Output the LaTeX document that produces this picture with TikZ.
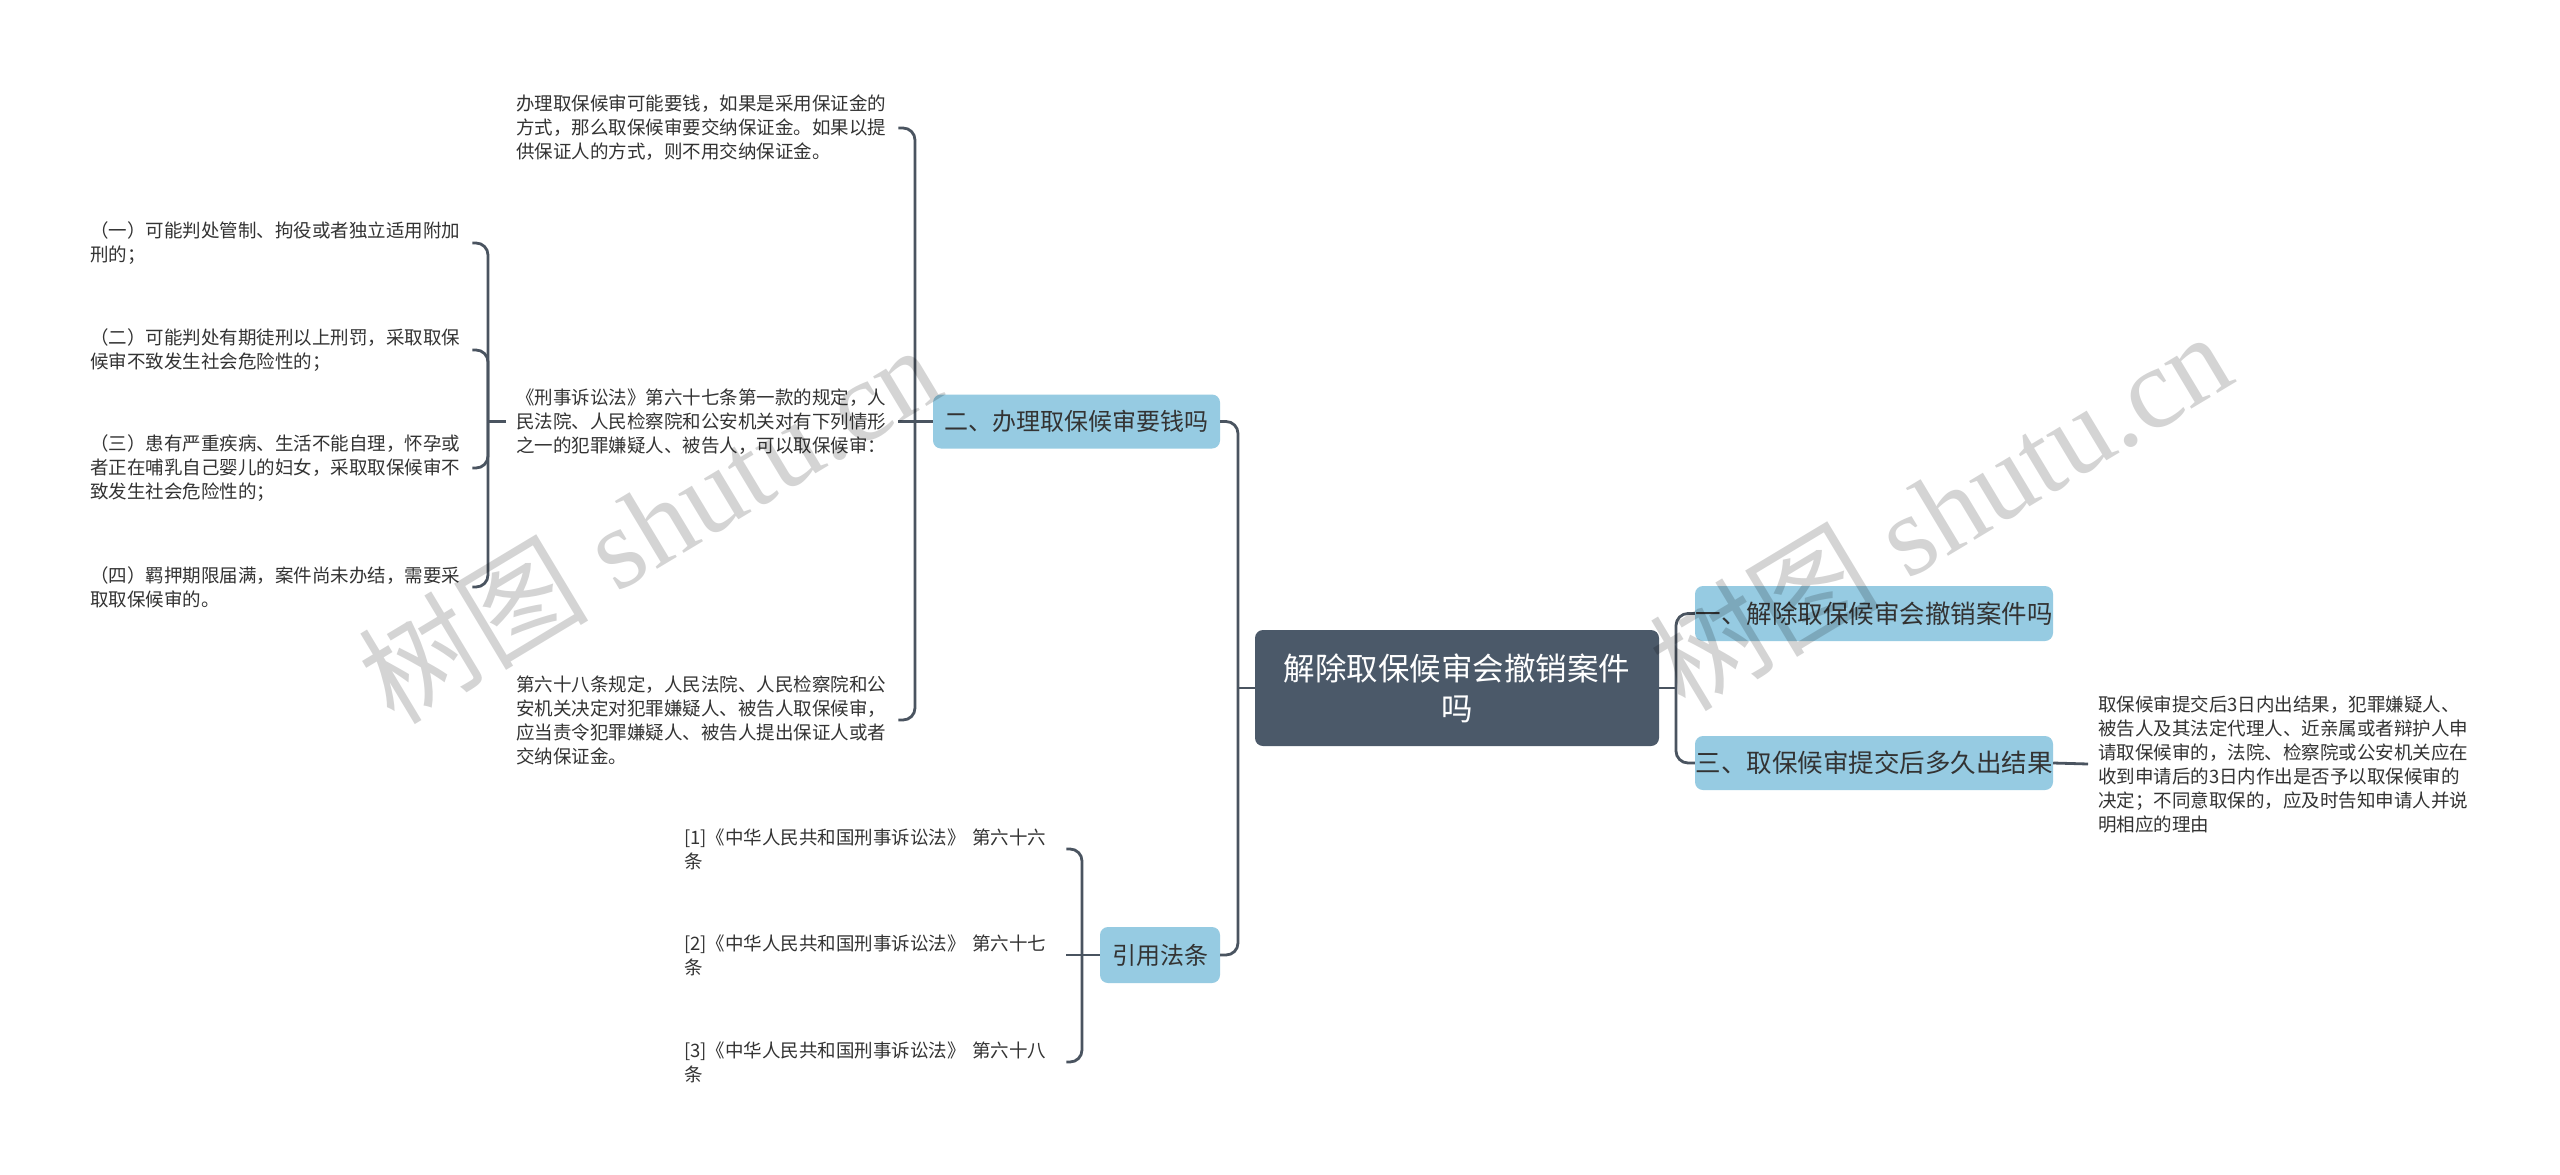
\documentclass[tikz,border=0pt]{standalone}
\usepackage{fontspec}
\setmainfont{Noto Sans CJK SC}
\newfontfamily\wmlat{Liberation Serif}
\newfontfamily\wmcjk{Noto Sans CJK SC}
\definecolor{linec}{RGB}{74,84,96}
\definecolor{darkc}{RGB}{75,89,105}
\definecolor{bluec}{RGB}{150,203,226}
\definecolor{txtc}{RGB}{51,51,51}
\begin{document}
\begin{tikzpicture}[x=1pt,y=-1pt,
  txt/.style={text width=372pt, align=left, inner xsep=10pt, inner ysep=2pt,
    font=\fontsize{18.5}{24}\selectfont, text=txtc, anchor=west},
  central/.style={fill=darkc, text=white, rounded corners=8pt, align=center,
    inner sep=0pt, font=\fontsize{31.5}{40}\selectfont},
  blueA/.style={fill=bluec, text=txtc, rounded corners=8pt, inner sep=0pt,
    minimum height=54pt, font=\fontsize{25.5}{30}\selectfont},
  blueB/.style={fill=bluec, text=txtc, rounded corners=8pt, inner sep=0pt,
    minimum height=54pt, font=\fontsize{24}{30}\selectfont},
  conn/.style={draw=linec, line width=2.8pt, rounded corners=12pt},
  wm/.style={text=black, text opacity=0.17, inner sep=0pt,
    font=\fontsize{115}{115}\selectfont\wmlat}
]
\useasboundingbox (0,0) rectangle (2560,1175);
\fill[white] (0,0) rectangle (2560,1175);

% central and main branches
\node[central, minimum width=404pt, minimum height=116pt] (c) at (1457,688) {解除取保候审会撤销案件\\吗};
\node[blueA, minimum width=358pt, minimum height=55pt] (yi) at (1874,613.5) {一、解除取保候审会撤销案件吗};
\node[blueA, minimum width=358pt] (san) at (1874,763) {三、取保候审提交后多久出结果};
\node[blueB, minimum width=287pt] (er) at (1076.5,421.5) {二、办理取保候审要钱吗};
\node[blueB, minimum width=120pt, minimum height=56pt] (yy) at (1160,955) {引用法条};

% texts under 二
\node[txt] (A) at (506,128) {办理取保候审可能要钱，如果是采用保证金的\\方式，那么取保候审要交纳保证金。如果以提\\供保证人的方式，则不用交纳保证金。};
\node[txt] (B) at (506,421.5) {《刑事诉讼法》第六十七条第一款的规定，人\\民法院、人民检察院和公安机关对有下列情形\\之一的犯罪嫌疑人、被告人，可以取保候审：};
\node[txt] (C) at (506,720) {第六十八条规定，人民法院、人民检察院和公\\安机关决定对犯罪嫌疑人、被告人取保候审，\\应当责令犯罪嫌疑人、被告人提出保证人或者\\交纳保证金。};

% children of B
\node[txt] (D1) at (80,243) {（一）可能判处管制、拘役或者独立适用附加\\刑的；};
\node[txt] (D2) at (80,350) {（二）可能判处有期徒刑以上刑罚，采取取保\\候审不致发生社会危险性的；};
\node[txt] (D3) at (80,468) {（三）患有严重疾病、生活不能自理，怀孕或\\者正在哺乳自己婴儿的妇女，采取取保候审不\\致发生社会危险性的；};
\node[txt] (D4) at (80,587) {（四）羁押期限届满，案件尚未办结，需要采\\取取保候审的。};

% citations
\node[txt] (E1) at (674,849) {[1]《中华人民共和国刑事诉讼法》 第六十六\\条};
\node[txt] (E2) at (674,955) {[2]《中华人民共和国刑事诉讼法》 第六十七\\条};
\node[txt] (E3) at (674,1062) {[3]《中华人民共和国刑事诉讼法》 第六十八\\条};

% text under 三
\node[txt] (F) at (2088,764) {取保候审提交后3日内出结果，犯罪嫌疑人、\\被告人及其法定代理人、近亲属或者辩护人申\\请取保候审的，法院、检察院或公安机关应在\\收到申请后的3日内作出是否予以取保候审的\\决定；不同意取保的，应及时告知申请人并说\\明相应的理由};

% trunk coordinates
\coordinate (tL) at (1238,688);
\coordinate (tR) at (1676,688);
\coordinate (tE) at (915,421.5);
\coordinate (tB) at (488,421.5);
\coordinate (tY) at (1082,955);

% connectors
\draw[conn] (er.east) -| (tL) |- (yy.east);
\draw[conn] (c.west) -- (tL);
\draw[conn] (yi.west) -| (tR) |- (san.west);
\draw[conn] (c.east) -- (tR);
\draw[conn] (san.east) -- (F.west);

\draw[conn] (A.east) -| (tE) |- (C.east);
\draw[conn] (B.east) -- (er.west);

\draw[conn] (B.west) -- (tB);
\draw[conn] (D1.east) -| (tB) |- (D4.east);
\draw[conn] (tB) |- (D2.east);
\draw[conn] (tB) |- (D3.east);

\draw[conn] (yy.west) -- (tY);
\draw[conn] (E1.east) -| (tY) |- (E3.east);
\draw[conn] (E2.east) -- (tY);

% watermarks
\node[wm, rotate=31] (wm1) at (649,523) {{\wmcjk 树图} shutu.cn};
\node[wm, rotate=31] (wm2) at (1940,510) {{\wmcjk 树图} shutu.cn};
\end{tikzpicture}
\end{document}
